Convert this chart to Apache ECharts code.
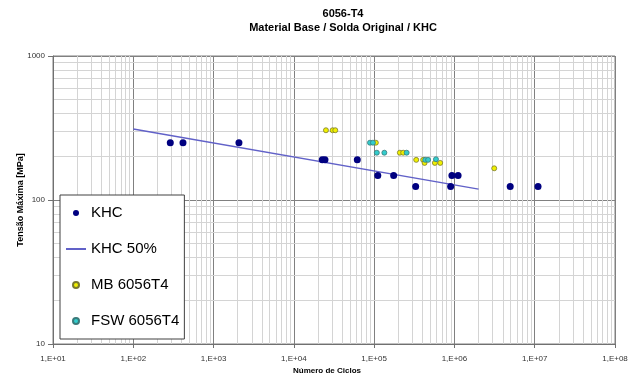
<!DOCTYPE html>
<html>
<head>
<meta charset="utf-8">
<script src="https://cdn.jsdelivr.net/npm/echarts@6/dist/echarts.min.js"></script>
<style>
  html, body { margin: 0; padding: 0; background: #fff; }
  #chart { width: 630px; height: 376px; }
</style>
</head>
<body>
<div id="chart"></div>
<script>
// ---- Data ----
const khcPoints = [
  [289, 250], [416, 250], [2070, 250],
  [22600, 190], [24400, 190], [61700, 190],
  [111000, 148], [175000, 148],
  [329000, 124], [897000, 124],
  [931000, 148], [1110000, 148],
  [4950000, 124], [11000000, 124]
];
const khc50Points = [[100, 311], [2000000, 119]];
const mbPoints = [
  [25100, 305], [30400, 305], [32800, 305],
  [105000, 250],
  [209000, 213], [230000, 213],
  [334000, 190], [408000, 190],
  [425000, 181], [571000, 181], [665000, 181],
  [3130000, 166]
];
const fswPoints = [
  [88700, 250], [96600, 250],
  [108000, 213], [134000, 213], [254000, 213],
  [433000, 190], [470000, 190], [589000, 192]
];
const xTickLabels = ['1,E+01', '1,E+02', '1,E+03', '1,E+04', '1,E+05', '1,E+06', '1,E+07', '1,E+08'];
const yTickLabels = ['10', '100', '1000'];
const seriesNames = ['KHC', 'KHC 50%', 'MB 6056T4', 'FSW 6056T4'];
const titleLines = ['6056-T4', 'Material Base / Solda Original / KHC'];
const xAxisTitle = 'Número de Ciclos';
const yAxisTitle = 'Tensão Máxima [MPa]';

// minor grid values (2..9 per decade)
const xMinor = [], yMinor = [];
for (let k = 1; k < 8; k++) for (let d = 2; d <= 9; d++) xMinor.push(d * Math.pow(10, k));
for (let k = 1; k < 3; k++) for (let d = 2; d <= 9; d++) yMinor.push(d * Math.pow(10, k));

const FONT = '"Liberation Sans", Arial, sans-serif';
const chart = echarts.init(document.getElementById('chart'), null, { renderer: 'canvas' });

chart.setOption({
  animation: false,
  backgroundColor: '#ffffff',
  textStyle: { fontFamily: FONT },
  title: {
    text: titleLines.join('\n'),
    left: 338,
    top: 2,
    textAlign: 'center',
    textStyle: { fontFamily: FONT, fontSize: 11, fontWeight: 'bold', color: '#000', lineHeight: 14 }
  },
  grid: {
    left: 53, right: 15, top: 56, bottom: 32, show: true, borderColor: '#808080', borderWidth: 1,
    containLabel: false, outerBoundsMode: 'none'
  },
  legend: {
    data: [
      { name: seriesNames[0], icon: 'circle' },
      { name: seriesNames[1], itemStyle: { color: 'rgba(0,0,0,0)', borderWidth: 0, borderColor: 'rgba(0,0,0,0)' } },
      { name: seriesNames[2], icon: 'circle' },
      { name: seriesNames[3], icon: 'circle' }
    ],
    orient: 'vertical',
    left: 60,
    top: 195,
    z: 20,
    itemWidth: 20,
    itemHeight: 6,
    itemGap: 20,
    padding: [10, 5, 10, 5],
    backgroundColor: '#ffffff',
    borderColor: '#404040',
    borderWidth: 1,
    textStyle: { fontFamily: FONT, fontSize: 15, color: '#000', lineHeight: 16 }
  },
  xAxis: {
    type: 'log', logBase: 10, min: 10, max: 1e8,
    name: xAxisTitle, nameLocation: 'middle', nameGap: 23, nameMoveOverlap: false,
    nameTextStyle: { fontFamily: FONT, fontSize: 8, fontWeight: 'bold', color: '#000', padding: [0, 14, 0, 0] },
    axisLine: { show: true, lineStyle: { color: '#707070', width: 1 } },
    axisTick: { show: true, length: 4, lineStyle: { color: '#707070' } },
    axisLabel: {
      fontSize: 8, color: '#333', margin: 11, fontFamily: FONT,
      formatter: v => xTickLabels[Math.round(Math.log10(v)) - 1]
    },
    splitLine: { show: true, lineStyle: { color: '#808080', width: 1 } },
    minorTick: { show: false }, minorSplitLine: { show: false }
  },
  yAxis: {
    type: 'log', logBase: 10, min: 10, max: 1000,
    name: yAxisTitle, nameLocation: 'middle', nameGap: 28, nameMoveOverlap: false,
    nameTextStyle: { fontFamily: FONT, fontSize: 9, fontWeight: 'bold', color: '#000' },
    axisLine: { show: true, lineStyle: { color: '#707070', width: 1 } },
    axisTick: { show: true, length: 5, lineStyle: { color: '#707070' } },
    axisLabel: {
      fontSize: 8, color: '#333', margin: 8, fontFamily: FONT,
      formatter: v => yTickLabels[Math.round(Math.log10(v)) - 1]
    },
    splitLine: { show: true, lineStyle: { color: '#808080', width: 1 } },
    minorTick: { show: false }, minorSplitLine: { show: false }
  },
  series: [
    {
      name: 'minorGrid', type: 'line', data: [], z: 0, silent: true,
      markLine: {
        silent: true, z: 0, symbol: ['none', 'none'], label: { show: false }, animation: false,
        lineStyle: { color: '#d4d4d4', width: 1, type: 'solid' },
        emphasis: { disabled: true },
        data: xMinor.map(v => ({ xAxis: v })).concat(yMinor.map(v => ({ yAxis: v })))
      }
    },
    {
      name: seriesNames[1], type: 'line', data: khc50Points, symbol: 'none', showSymbol: false, z: 3,
      lineStyle: { color: '#6161c8', width: 1.5 }, itemStyle: { color: '#6161c8' }
    },
    {
      name: seriesNames[2], type: 'scatter', data: mbPoints, symbol: 'circle', symbolSize: 5, z: 4,
      itemStyle: { color: '#f0f000', borderColor: '#7a7a30', borderWidth: 0.8, opacity: 1 }
    },
    {
      name: seriesNames[3], type: 'scatter', data: fswPoints, symbol: 'circle', symbolSize: 5, z: 5,
      itemStyle: { color: '#33cccc', borderColor: '#3a7a7a', borderWidth: 0.8, opacity: 1 }
    },
    {
      name: seriesNames[0], type: 'scatter', data: khcPoints, symbol: 'circle', symbolSize: 7, z: 6,
      itemStyle: { color: '#000080', opacity: 1 }
    }
  ]
});
</script>
</body>
</html>
